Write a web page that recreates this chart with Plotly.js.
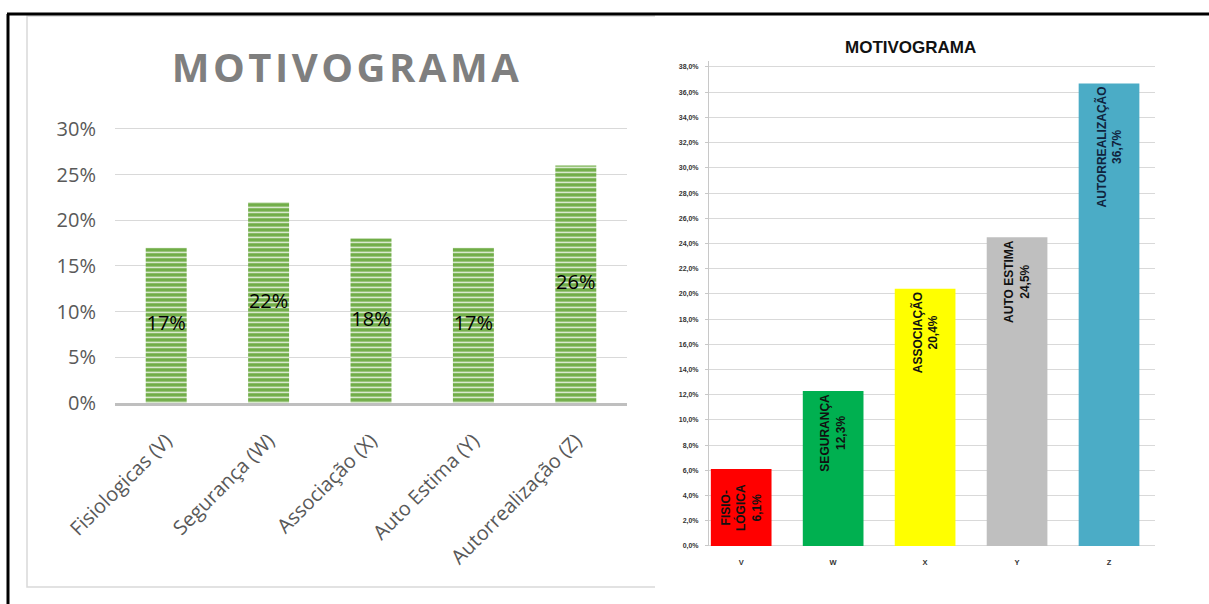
<!DOCTYPE html>
<html><head><meta charset="utf-8">
<script src="https://cdn.plot.ly/plotly-3.0.1.min.js"></script>
<style>body{margin:0;background:#fff}#chart{width:1209px;height:604px}.gtitle{letter-spacing:3.5px}</style>
</head><body><div id="chart"></div>
<script>
// Left chart data
const leftCategories = ['Fisiologicas (V)', 'Segurança (W)', 'Associação (X)', 'Auto Estima (Y)', 'Autorrealização (Z)'];
const leftValues = [0.17, 0.22, 0.18, 0.17, 0.26];
const leftLabels = ['17%', '22%', '18%', '17%', '26%'];
const leftTicks = [0, 0.05, 0.10, 0.15, 0.20, 0.25, 0.30];

// Right chart data
const rightCategories = ['V', 'W', 'X', 'Y', 'Z'];
const rightValues = [0.061, 0.123, 0.204, 0.245, 0.367];
const rightLabels = ['FISIO-<br>LÓGICA<br>6,1%', 'SEGURANÇA<br>12,3%', 'ASSOCIAÇÃO<br>20,4%', 'AUTO ESTIMA<br>24,5%', 'AUTORREALIZAÇÃO<br>36,7%'];
const rightColors = ['#ff0000', '#00b050', '#ffff00', '#bfbfbf', '#4bacc6'];

const W = 1209, H = 604;
const px = v => v / W;
const py = v => 1 - v / H;

const traces = [];
traces.push({
  type: 'bar', x: leftCategories, y: leftValues, xaxis: 'x', yaxis: 'y', width: 0.4,
  marker: { color: '#70ad47', line: { width: 0 },
    pattern: { shape: '-', bgcolor: '#70ad47', fgcolor: '#e4f0dc', size: 5, solidity: 0.3 } },
  hoverinfo: 'skip', showlegend: false
});
traces.push({
  type: 'scatter', mode: 'text', x: leftCategories, y: leftValues.map(v => v / 2),
  text: leftLabels, xaxis: 'x', yaxis: 'y',
  textfont: { family: 'Open Sans', size: 20, color: '#000' },
  hoverinfo: 'skip', showlegend: false
});
rightCategories.forEach((c, i) => {
  traces.push({
    type: 'bar', x: [c], y: [rightValues[i]], xaxis: 'x2', yaxis: 'y2', width: 0.66,
    marker: { color: rightColors[i], line: { width: 0 } },
    text: [rightLabels[i]], textposition: 'inside', textangle: -90,
    insidetextanchor: i === 0 ? 'middle' : 'end', constraintext: 'none',
    textfont: { family: 'Liberation Sans', size: 12, color: i === 4 ? '#10243e' : '#111', weight: 'bold' },
    hoverinfo: 'skip', showlegend: false
  });
});

const leftTop = 403 - 0.31 * (274 / 0.30);
const rightTop = 546 - 0.385 * (479 / 0.38);

const layout = {
  width: W, height: H, margin: { l: 0, r: 0, t: 0, b: 0 },
  paper_bgcolor: '#fff', plot_bgcolor: 'rgba(0,0,0,0)',
  barmode: 'overlay', separators: ',.', showlegend: false,
  title: { text: '<b>MOTIVOGRAMA</b>', x: px(347), y: py(68), xanchor: 'center', yanchor: 'middle',
    font: { family: 'Open Sans', size: 40, color: '#7f7f7f' } },
  xaxis: {
    domain: [px(115), px(627)], range: [-0.5, 4.5], type: 'category', anchor: 'y',
    tickangle: -45, tickfont: { family: 'Open Sans', size: 20, color: '#595959' }, ticklabelstandoff: 15,
    showline: true, linecolor: '#bfbfbf', linewidth: 3, showgrid: false, ticks: '', fixedrange: true
  },
  yaxis: {
    domain: [py(403), py(leftTop)], range: [0, 0.31], anchor: 'x',
    tickvals: leftTicks, tickformat: '.0%', gridcolor: '#d9d9d9', gridwidth: 1,
    zeroline: false, showline: false, ticks: '', ticklabelstandoff: 18,
    tickfont: { family: 'Open Sans', size: 20, color: '#595959' }, fixedrange: true
  },
  xaxis2: {
    domain: [px(709), px(1155)], range: [-0.35, 4.5], type: 'category', anchor: 'y2',
    tickfont: { family: 'Liberation Sans', size: 7.5, color: '#333', weight: 'bold' }, ticklabelstandoff: 10,
    showgrid: false, showline: false, ticks: '', fixedrange: true
  },
  yaxis2: {
    domain: [py(546), py(rightTop)], range: [0, 0.385], anchor: 'x2',
    dtick: 0.02, tick0: 0, tickformat: '.1%', gridcolor: '#d9d9d9', gridwidth: 1,
    zeroline: true, zerolinecolor: '#d9d9d9', showline: true, linecolor: '#c8c8c8',
    ticks: 'outside', ticklen: 3, tickcolor: '#c8c8c8', ticklabelstandoff: 5,
    tickfont: { family: 'Liberation Sans', size: 7, color: '#333', weight: 'bold' }, fixedrange: true
  },
  annotations: [{
    xref: 'paper', yref: 'paper', x: px(910), y: py(47), xanchor: 'center', yanchor: 'middle',
    text: '<b>MOTIVOGRAMA</b>', showarrow: false,
    font: { family: 'Liberation Sans', size: 17, color: '#111' }
  }],
  shapes: [
    { type: 'rect', xref: 'paper', yref: 'paper', x0: px(27), x1: px(700), y0: py(587), y1: py(16),
      line: { color: '#d9d9d9', width: 1.5 }, layer: 'below' },
    { type: 'rect', xref: 'paper', yref: 'paper', x0: px(655), x1: 1, y0: 0, y1: py(15),
      fillcolor: '#fff', line: { width: 0 }, layer: 'below' },
    { type: 'line', xref: 'paper', yref: 'paper', x0: px(7), x1: 1, y0: py(14), y1: py(14),
      line: { color: '#000', width: 3 } },
    { type: 'line', xref: 'paper', yref: 'paper', x0: px(8), x1: px(8), y0: 0, y1: py(14),
      line: { color: '#000', width: 3 } }
  ]
};

Plotly.newPlot('chart', traces, layout, { displayModeBar: false, staticPlot: true });
</script>
</body></html>
